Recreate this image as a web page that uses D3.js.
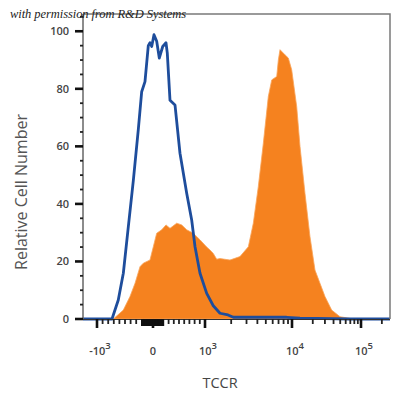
<!DOCTYPE html>
<html>
<head>
<meta charset="utf-8">
<script src="https://cdn.jsdelivr.net/npm/d3@7/dist/d3.min.js"></script>
<style>
html, body { margin: 0; padding: 0; background: #fff; }
svg { display: block; }
</style>
</head>
<body>
<div id="chart"></div>
<script>
// isotype control, blue outline (fluorescence value, relative count)
var control_x = [-1250, -732, -620, -530, -441, -352, -263, -202, -143, -84, -54, -23, 19, 71, 121,
                 187, 250, 275, 327, 423, 519, 648, 744, 808, 904, 1046, 1245, 1486, 1837, 2113,
                 4285, 8690, 13060, 69000, 262144];
var control_y = [0, 0, 6.6, 15.9, 32, 48, 65.7, 79, 82.5, 95, 96, 94.7, 98.8, 96.5, 90.7,
                 94.7, 96, 92.4, 76, 74.4, 57.6, 43.7, 34.4, 25.1, 15.9, 8.9, 4.6, 2, 1.4, 0.6,
                 0.6, 0.6, 0.3, 0, 0];

// TCCR stained cells, orange fill
var tccr_x = [-1250, -709, -530, -411, -321, -232, -173, -54, 6, 71, 167, 250, 327, 456, 552,
              648, 775, 904, 1046, 1141, 1245, 1363, 1486, 1937, 2524, 3148, 3592, 4100, 4679,
              5342, 5847, 6674, 6966, 7280, 8310, 9075, 9920, 11700, 13060, 15420, 18230,
              21540, 25450, 30070, 37580, 49640, 69300, 80000, 262144];
var tccr_y = [0, 0, 3.1, 7.8, 12.4, 18.2, 19.4, 20.5, 25.1, 29.8, 31, 32.7, 31.5, 33.3, 32.7,
              31, 29.8, 27.5, 25, 24, 22.8, 20.8, 21, 20.5, 21.7, 25.1, 33.3, 46, 61,
              77.3, 83.1, 84.3, 90, 93.6, 91.8, 90.7, 86.6, 73.8, 60, 43.7, 28.6,
              17, 12.4, 7.8, 3.1, 0.8, 0.2, 0, 0];

var y_major = [0, 20, 40, 60, 80, 100];
var y_minor = [5, 10, 15, 25, 30, 35, 45, 50, 55, 65, 70, 75, 85, 90, 95, 105];

var x_major = [-1000, 0, 1000, 10000, 100000];
var x_base = ['-10', '0', '10', '10', '10'];
var x_exp = ['3', '', '3', '4', '5'];
var x_minor = [-900, -800, -700, -600, -500, -400, -300, 300, 400, 500, 600, 700, 800, 900,
               2000, 3000, 4000, 5000, 6000, 7000, 8000, 9000,
               20000, 30000, 40000, 50000, 60000, 70000, 80000, 90000, 200000];
var x_cluster = d3.range(-200, 201, 10);

var w = 400, h = 397;
var left = 83, right = 390, top_ = 14, bottom = 319;

// biexponential-like display: linear around zero, log above 10^3
var xLin = d3.scaleLinear().domain([-1250, -1000, 0, 1000]).range([left, 97, 153, 205]);
var xLog = d3.scaleLog().domain([1000, 10000, 100000, 262144]).range([205, 292, 361, right]);
function x(v) { return v <= 1000 ? xLin(v) : xLog(v); }
var y = d3.scaleLinear().domain([0, 106]).range([bottom, top_]);

var svg = d3.select('#chart')
  .append('svg')
  .attr('width', w)
  .attr('height', h);

var tccr = tccr_x.map(function (d, i) { return [d, tccr_y[i]]; });
var control = control_x.map(function (d, i) { return [d, control_y[i]]; });

svg.append('path')
  .datum(tccr)
  .attr('d', d3.area().x(function (d) { return x(d[0]); }).y0(y(0)).y1(function (d) { return y(d[1]); }))
  .attr('fill', '#F5821F')
  .attr('stroke', '#F9A55A')
  .attr('stroke-width', 0.8);

svg.append('path')
  .datum(control)
  .attr('d', d3.line().x(function (d) { return x(d[0]); }).y(function (d) { return y(d[1]); }))
  .attr('fill', 'none')
  .attr('stroke', '#1E4D9C')
  .attr('stroke-width', 2.8)
  .attr('stroke-linejoin', 'round');

// frame
svg.append('path')
  .attr('d', 'M' + left + ',' + top_ + 'H' + right + 'V' + bottom)
  .attr('fill', 'none')
  .attr('stroke', '#7a7a7a')
  .attr('stroke-width', 1.5);

svg.append('line')
  .attr('x1', left).attr('x2', left)
  .attr('y1', top_).attr('y2', bottom + 1)
  .attr('stroke', '#666')
  .attr('stroke-width', 1.5);

svg.append('line')
  .attr('x1', left).attr('x2', right)
  .attr('y1', bottom + 0.5).attr('y2', bottom + 0.5)
  .attr('stroke', '#333')
  .attr('stroke-width', 1.2);

// y ticks
svg.selectAll('.ymaj')
  .data(y_major)
  .enter().append('line')
  .attr('x1', 75).attr('x2', left)
  .attr('y1', function (d) { return y(d); })
  .attr('y2', function (d) { return y(d); })
  .attr('stroke', '#111')
  .attr('stroke-width', 2.6);

svg.selectAll('.ymin')
  .data(y_minor)
  .enter().append('line')
  .attr('x1', 80).attr('x2', left)
  .attr('y1', function (d) { return y(d); })
  .attr('y2', function (d) { return y(d); })
  .attr('stroke', '#222')
  .attr('stroke-width', 1.8);

svg.selectAll('.ylab')
  .data(y_major)
  .enter().append('text')
  .attr('x', 69)
  .attr('y', function (d) { return y(d) + 4; })
  .attr('text-anchor', 'end')
  .attr('font-family', 'Open Sans')
  .attr('font-weight', 600)
  .attr('font-size', 11)
  .attr('fill', '#444')
  .text(function (d) { return d; });

// x ticks
svg.selectAll('.xmaj')
  .data(x_major)
  .enter().append('line')
  .attr('x1', function (d) { return x(d); })
  .attr('x2', function (d) { return x(d); })
  .attr('y1', bottom).attr('y2', 328)
  .attr('stroke', '#111')
  .attr('stroke-width', 2.6);

svg.selectAll('.xmin')
  .data(x_minor)
  .enter().append('line')
  .attr('x1', function (d) { return x(d); })
  .attr('x2', function (d) { return x(d); })
  .attr('y1', bottom).attr('y2', 324)
  .attr('stroke', '#222')
  .attr('stroke-width', 1.8);

svg.selectAll('.xclu')
  .data(x_cluster)
  .enter().append('line')
  .attr('x1', function (d) { return x(d); })
  .attr('x2', function (d) { return x(d); })
  .attr('y1', bottom).attr('y2', 326)
  .attr('stroke', '#111')
  .attr('stroke-width', 1.6);

var xl = svg.selectAll('.xlab')
  .data(x_major)
  .enter().append('text')
  .attr('x', function (d, i) { return x(d) + (x_exp[i] ? 3 : 0); })
  .attr('y', 355)
  .attr('text-anchor', 'middle')
  .attr('font-family', 'Open Sans')
  .attr('font-weight', 600)
  .attr('font-size', 11)
  .attr('fill', '#444');

xl.append('tspan').text(function (d, i) { return x_base[i]; });
xl.append('tspan')
  .attr('dy', -6)
  .attr('font-size', 9.5)
  .text(function (d, i) { return x_exp[i]; });

// axis titles
svg.append('text')
  .attr('x', 220)
  .attr('y', 388)
  .attr('text-anchor', 'middle')
  .attr('font-family', 'Open Sans')
  .attr('font-size', 14.5)
  .attr('fill', '#444')
  .text('TCCR');

svg.append('text')
  .attr('transform', 'translate(27,192) rotate(-90)')
  .attr('text-anchor', 'middle')
  .attr('font-family', 'Open Sans')
  .attr('font-size', 16)
  .attr('fill', '#555')
  .text('Relative Cell Number');

// credit line
svg.append('text')
  .attr('x', 10)
  .attr('y', 18)
  .attr('font-family', 'Liberation Serif')
  .attr('font-style', 'italic')
  .attr('font-size', 12.5)
  .attr('textLength', 176)
  .attr('fill', '#222')
  .text('with permission from R&D Systems');
</script>
</body>
</html>
